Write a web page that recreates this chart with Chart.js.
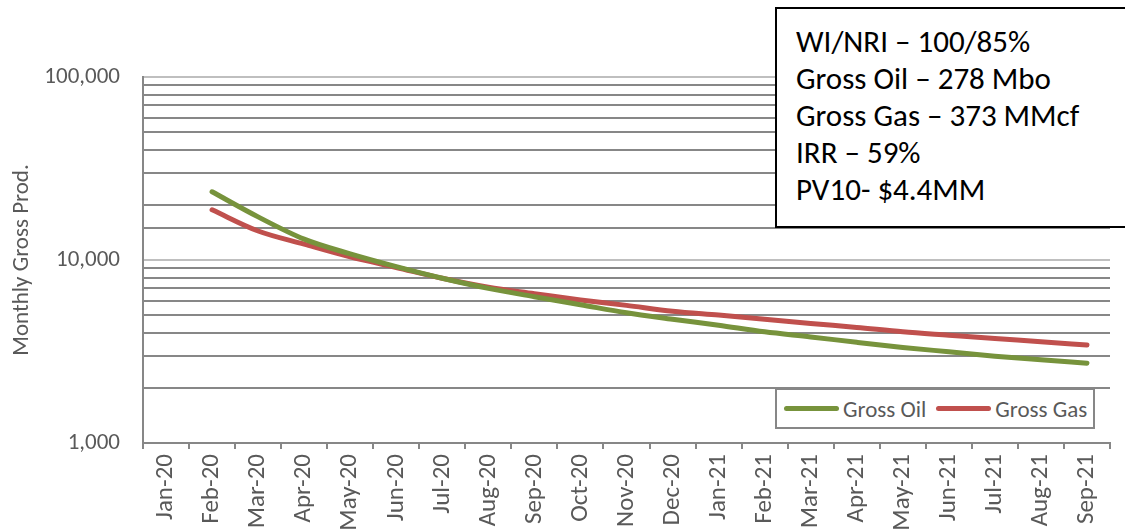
<!DOCTYPE html>
<html>
<head>
<meta charset="utf-8">
<script src="https://cdn.jsdelivr.net/npm/chart.js@4.4.1/dist/chart.umd.min.js"></script>
<style>
  html, body { margin: 0; padding: 0; background: #fff; }
  #wrap { position: relative; width: 1125px; height: 531px; overflow: hidden; }
  #info {
    position: absolute; left: 775px; top: 7px; width: 370px; height: 221px;
    box-sizing: border-box; border: 2px solid #000; background: #fff;
    padding: 14px 0 0 19px; color: #000;
    font-family: Carlito, Lato, sans-serif; font-size: 31px; line-height: 37px;
  }
  #legend {
    position: absolute; left: 775px; top: 388px; width: 320px; height: 41px;
    box-sizing: border-box; border: 2px solid #878787; background: #fff;
    display: flex; align-items: center; padding-left: 7px; white-space: nowrap;
    font-family: Carlito, Lato, sans-serif; font-size: 23px; color: #595959;
  }
  #legend .item { display: flex; align-items: center; margin-right: 10px; }
  #legend .swatch { width: 55px; height: 5px; border-radius: 3px; margin-right: 4px; }
</style>
</head>
<body>
<div id="wrap">
  <canvas id="chart" width="1125" height="531"></canvas>
  <div id="info">
    WI/NRI – 100/85%<br>
    Gross Oil – 278 Mbo<br>
    Gross Gas – 373 MMcf<br>
    IRR – 59%<br>
    PV10- $4.4MM
  </div>
  <div id="legend"></div>
</div>
<script>
// months on the x axis
const categories = [
  "Jan-20", "Feb-20", "Mar-20", "Apr-20", "May-20", "Jun-20", "Jul-20",
  "Aug-20", "Sep-20", "Oct-20", "Nov-20", "Dec-20", "Jan-21", "Feb-21",
  "Mar-21", "Apr-21", "May-21", "Jun-21", "Jul-21", "Aug-21", "Sep-21"
];

// monthly gross production
const grossOil = [
  null, 23600, 17200, 13000, 10800, 9200, 7950,
  7000, 6300, 5700, 5150, 4750, 4400, 4050,
  3800, 3550, 3330, 3150, 2980, 2850, 2730
];
const grossGas = [
  null, 18800, 14400, 12200, 10400, 9100, 7950,
  7100, 6550, 6050, 5650, 5250, 5000, 4750,
  4500, 4280, 4050, 3880, 3720, 3580, 3430
];

// labelled y ticks (log scale)
const yTickLabels = [1000, 10000, 100000];

const FONT = "Carlito, Lato, sans-serif";
Chart.defaults.font.family = FONT;

const isDecade = (v) => yTickLabels.includes(v);

const chart = new Chart(document.getElementById("chart"), {
  type: "line",
  data: {
    labels: categories,
    datasets: [
      {
        label: "Gross Oil",
        data: grossOil,
        borderColor: "#77933C",
        backgroundColor: "#77933C",
        borderWidth: 5,
        pointRadius: 0,
        borderCapStyle: "round",
        cubicInterpolationMode: "monotone",
      },
      {
        label: "Gross Gas",
        data: grossGas,
        borderColor: "#C0504D",
        backgroundColor: "#C0504D",
        borderWidth: 5,
        pointRadius: 0,
        borderCapStyle: "round",
        cubicInterpolationMode: "monotone",
      },
    ],
  },
  options: {
    responsive: false,
    animation: false,
    layout: { padding: { top: 77, right: 15, left: 0, bottom: 0 } },
    plugins: { legend: { display: false }, tooltip: { enabled: false } },
    scales: {
      x: {
        offset: true,
        grid: { drawOnChartArea: false, drawTicks: true, tickLength: 6, color: "#878787", lineWidth: 2, offset: true },
        border: { color: "#878787", width: 2 },
        ticks: { autoSkip: false, minRotation: 90, maxRotation: 90, padding: 5, color: "#595959", font: { size: 25 } },
        afterFit: (s) => { s.height = 88; },
      },
      y: {
        type: "logarithmic",
        min: 1000,
        max: 100000,
        border: { color: "#878787", width: 2 },
        grid: {
          drawTicks: false,
          lineWidth: 2,
          color: (ctx) => (ctx.tick && isDecade(ctx.tick.value) ? "#BFBFBF" : "#878787"),
        },
        ticks: {
          autoSkip: false,
          padding: 23,
          color: "#595959",
          font: { size: 23 },
          callback: (v) => (isDecade(v) ? v.toLocaleString("en-US") : ""),
        },
        title: { display: true, text: "Monthly Gross Prod.", color: "#595959", font: { size: 23 }, padding: { top: 8, bottom: 0 } },
        afterFit: (s) => { s.width = 143; },
      },
    },
  },
});

// legend inside the plot, built from the datasets
const legend = document.getElementById("legend");
chart.data.datasets.forEach((ds) => {
  const item = document.createElement("div");
  item.className = "item";
  const sw = document.createElement("span");
  sw.className = "swatch";
  sw.style.background = ds.borderColor;
  const txt = document.createElement("span");
  txt.textContent = ds.label;
  item.appendChild(sw);
  item.appendChild(txt);
  legend.appendChild(item);
});
</script>
</body>
</html>
